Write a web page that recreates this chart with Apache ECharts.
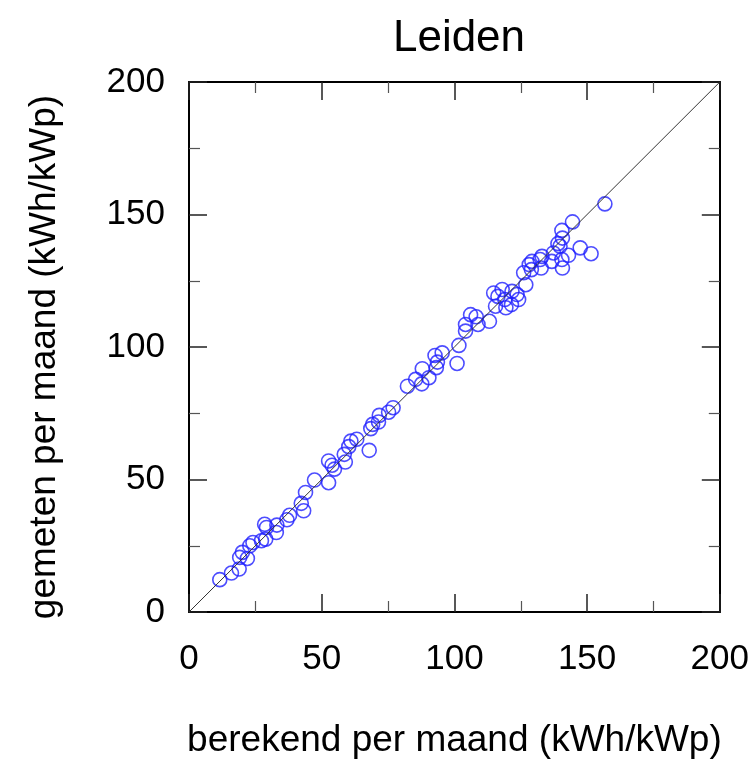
<!DOCTYPE html>
<html>
<head>
<meta charset="utf-8">
<script src="https://cdn.jsdelivr.net/npm/echarts@6/dist/echarts.min.js"></script>
<style>
  html, body { margin: 0; padding: 0; background: #fff; }
  #chart { width: 752px; height: 764px; }
</style>
</head>
<body>
<div id="chart"></div>
<script>
// berekend (x) en gemeten (y) per maand, kWh/kWp
var berekend = [
  11.6, 16, 18.9, 19.1, 20.1, 22, 22.9, 24.1, 27.3, 28.9, 29.2, 28.5, 32.9, 33.1, 36.9, 37.9,
  43.2, 42.3, 43.9, 47.3, 52.6, 52.6, 53.9, 54.8, 58.9, 58.5, 60.2, 61, 63.2, 67.9, 68.5, 69.2,
  71.4, 71.7, 75.2, 76.9, 82.3, 85.4, 87.7, 87.9, 90.4, 92.7, 93.2, 93.6, 95.4, 101, 101.7, 104.2,
  104.2, 106.1, 108.2, 108.9, 113.2, 115.5, 116.4, 119, 119.4, 121.5, 123.6, 124.2, 114.8, 118,
  121.7, 126.1, 126.9, 128.2, 129, 129.2, 132.3, 132.7, 133, 136.7, 137.3, 139, 139.8, 140.5,
  140.5, 140.7, 140.7, 143, 144.5, 147.4, 151.5, 156.7
];
var gemeten = [
  12.2, 14.7, 16.2, 20.6, 22.5, 20.2, 25, 26.2, 26.9, 27.5, 31.9, 33.1, 30, 32.8, 34.8, 36.5,
  38.2, 41, 45.1, 49.8, 48.8, 57, 55.4, 53.9, 56.6, 59.5, 62.4, 64.5, 65.2, 61, 69.2, 70.8,
  71.7, 74.2, 75.4, 77.1, 85.2, 87.8, 86.1, 91.8, 88.4, 96.8, 92.2, 94.3, 97.8, 93.8, 100.6, 106,
  108.5, 112.2, 111.4, 108.5, 109.7, 115.4, 119.1, 117.9, 114.8, 116, 119.8, 117.9, 120.4, 121.7,
  121, 128, 123.5, 131.1, 129.2, 132.3, 133, 129.8, 134.2, 132.3, 135.5, 139, 138, 144,
  133, 141.1, 129.8, 134.6, 147.2, 137.4, 135.2, 154
];
var diagonaal = [[0, 0], [200, 200]];
var ticks = [0, 50, 100, 150, 200];

var font = 'Liberation Sans, Arial, Helvetica, sans-serif';
var points = berekend.map(function (x, i) { return [x, gemeten[i]]; });

var chart = echarts.init(document.getElementById('chart'));

function axisBase(show) {
  return {
    type: 'value',
    min: ticks[0],
    max: ticks[ticks.length - 1],
    interval: 50,
    splitLine: { show: false },
    axisLine: { show: true, onZero: false, lineStyle: { color: '#000', width: 2 } },
    axisTick: { show: true, inside: true, length: 18, lineStyle: { color: '#222', width: 1.5 } },
    minorTick: { show: true, splitNumber: 2, length: 11, lineStyle: { color: '#555', width: 1.2 } },
    axisLabel: { show: show, color: '#000', fontSize: 35, fontFamily: font }
  };
}

var xBottom = axisBase(true);
xBottom.position = 'bottom';
xBottom.name = 'berekend per maand (kWh/kWp)';
xBottom.nameLocation = 'middle';
xBottom.nameGap = 110;
xBottom.nameTextStyle = { color: '#000', fontSize: 37, fontFamily: font };
xBottom.axisLabel.margin = 30;

var xTop = axisBase(false);
xTop.position = 'top';

var yLeft = axisBase(true);
yLeft.position = 'left';
yLeft.name = 'gemeten per maand (kWh/kWp)';
yLeft.nameLocation = 'middle';
yLeft.nameGap = 126;
yLeft.nameTextStyle = { color: '#000', fontSize: 37, fontFamily: font, padding: [0, 20, 0, 0] };
yLeft.axisLabel.margin = 24;

var yRight = axisBase(false);
yRight.position = 'right';

chart.setOption({
  animation: false,
  backgroundColor: '#fff',
  title: {
    text: 'Leiden',
    left: 454,
    top: 12,
    textAlign: 'center',
    textStyle: { color: '#000', fontSize: 44, fontWeight: 'normal', fontFamily: font }
  },
  grid: { left: 189, right: 30, top: 82, bottom: 151, containLabel: false },
  xAxis: [xBottom, xTop],
  yAxis: [yLeft, yRight],
  series: [
    {
      type: 'line',
      data: diagonaal,
      symbol: 'none',
      lineStyle: { color: '#333', width: 1 },
      silent: true
    },
    {
      type: 'scatter',
      data: points,
      symbol: 'circle',
      symbolSize: 14,
      itemStyle: { color: 'rgba(0,0,0,0)', borderColor: '#2020ff', borderWidth: 1.6 }
    }
  ]
});
</script>
</body>
</html>
